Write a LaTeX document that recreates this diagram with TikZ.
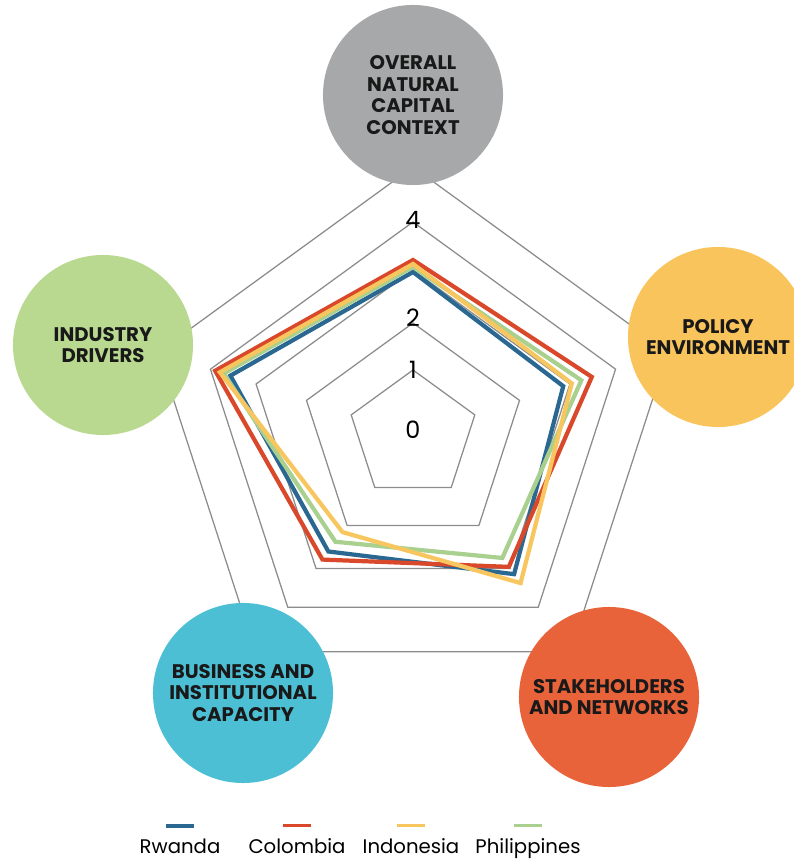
\documentclass[tikz,border=0pt]{standalone}
\usepackage{fontspec}
\setmainfont{Poppins}
\usetikzlibrary{positioning}

\definecolor{rwanda}{HTML}{2A6891}
\definecolor{colombia}{HTML}{D9482A}
\definecolor{indonesia}{HTML}{F8C65F}
\definecolor{philippines}{HTML}{AAD08F}
\definecolor{ctxgray}{HTML}{A7A8AA}
\definecolor{indgreen}{HTML}{B8D98F}
\definecolor{polyellow}{HTML}{F9C45C}
\definecolor{busblue}{HTML}{4DBFD5}
\definecolor{stkorange}{HTML}{E8633A}

\begin{document}
\begin{tikzpicture}[x=0.025cm,y=0.025cm,line join=miter,node distance=0.25cm,
	area/.style={circle,minimum size=4.5cm,inner sep=0pt,align=center,text=black!90,font=\bfseries\fontsize{14}{15.5}\selectfont},
	grid/.style={draw=gray!90,line width=0.9pt},
	country/.style={line width=3pt},
	level/.style={font=\fontsize{17}{17}\selectfont,inner sep=0pt},
	key/.style={font=\fontsize{14}{14}\selectfont,inner sep=0pt,anchor=base},
	swatch/.style={minimum width=0.7cm,minimum height=0.09cm,inner sep=0pt}]
\clip (-413,-425) rectangle (381,435);

% levels
\foreach \r in {65,112,165,213,268}
	\draw[grid] (90:\r) -- (18:\r) -- (-54:\r) -- (-126:\r) -- (162:\r) -- cycle;

\node[level]	(l0)	at (90:5)	{0};
\node[level]	(l1)	at (90:65)	{1};
\node[level]	(l2)	at (90:117)	{2};
\node[level]	(l4)	at (90:215)	{4};

\draw[country,draw=rwanda]	(90:163) -- (18:158) -- (-54:172) -- (-126:144) -- (162:192) -- cycle;
\draw[country,draw=colombia]	(90:175) -- (18:188) -- (-54:163) -- (-126:154) -- (162:208) -- cycle;
\draw[country,draw=philippines]	(90:168) -- (18:177) -- (-54:152) -- (-126:132) -- (162:199) -- cycle;
\draw[country,draw=indonesia]	(90:171) -- (18:167) -- (-54:183) -- (-126:120) -- (162:203) -- cycle;

\node[area,fill=ctxgray]	(ctx)	at (0,340)	{OVERALL\\NATURAL\\CAPITAL\\CONTEXT};
\node[area,fill=indgreen]	(ind)	at (-310,90)	{INDUSTRY\\DRIVERS};
\node[area,fill=polyellow]	(pol)	at (305,98)	{POLICY\\ENVIRONMENT};
\node[area,fill=busblue]	(bus)	at (-170,-258)	{BUSINESS AND\\INSTITUTIONAL\\CAPACITY};
\node[area,fill=stkorange]	(stk)	at (196,-262)	{STAKEHOLDERS\\AND NETWORKS};

% legend
\node[key]	(rw)	at (-233,-418)	{Rwanda};
\node[key]	(co)	at (-116,-418)	{Colombia};
\node[key]	(in)	at (-2,-418)	{Indonesia};
\node[key]	(ph)	at (115,-418)	{Philippines};
\node[swatch,fill=rwanda]	(srw)	[above=of rw]	{};
\node[swatch,fill=colombia]	(sco)	[above=of co]	{};
\node[swatch,fill=indonesia]	(sin)	[above=of in]	{};
\node[swatch,fill=philippines]	(sph)	[above=of ph]	{};
\end{tikzpicture}
\end{document}
